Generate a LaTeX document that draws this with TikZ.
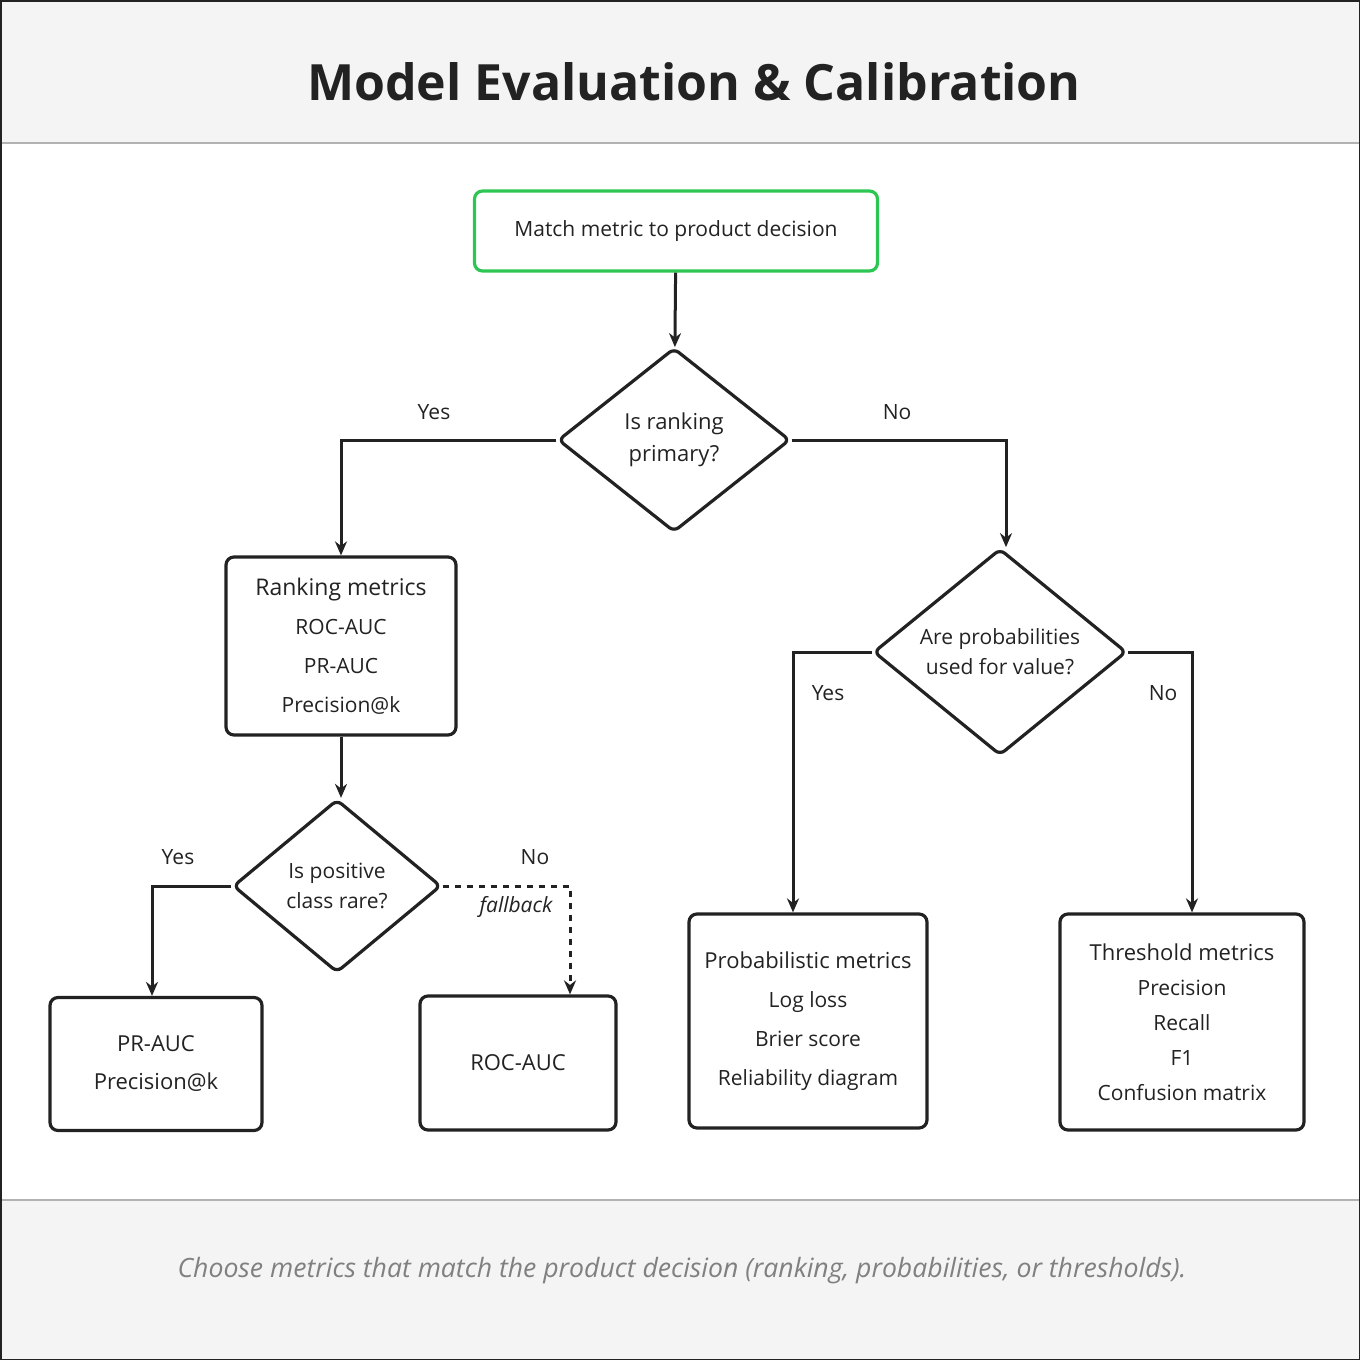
\documentclass[tikz,border=0pt]{standalone}
\usepackage{fontspec}
\setmainfont{Open Sans}
\usetikzlibrary{shapes.geometric,arrows.meta}
\definecolor{band}{HTML}{F4F4F4}
\definecolor{ink}{HTML}{222222}
\definecolor{grn}{HTML}{2DC653}
\begin{document}
\begin{tikzpicture}[x=0.5pt,y=-0.5pt,
  box/.style={draw=ink,line width=1.6pt,rounded corners=4pt,align=center,inner sep=0pt,
    font=\fontsize{10.5}{19.5}\selectfont,text=ink},
  dia/.style={diamond,draw=ink,line width=1.6pt,inner sep=0pt,align=center,rounded corners=3pt,
    font=\fontsize{11}{16}\selectfont,text=ink},
  arr/.style={draw=ink,line width=1.5pt,-{Stealth[length=7pt,width=6pt]}},
  lbl/.style={font=\fontsize{10.5}{12}\selectfont,text=ink}]
\useasboundingbox (0,0) rectangle (1360,1360);
\fill[band] (0,0) rectangle (1360,143);
\fill[band] (0,1200) rectangle (1360,1360);
\draw[gray!60,line width=0.8pt] (0,143) -- (1360,143) (0,1200) -- (1360,1200);
\draw[ink,line width=1pt] (0.5,0.5) rectangle (1359.5,1359.5);
\node[font=\fontsize{25}{30}\selectfont\bfseries,text=ink] (title) at (694,82) {Model Evaluation \& Calibration};
\node[font=\fontsize{13.3}{16}\selectfont\itshape,text=gray] (foot) at (682,1271) {Choose metrics that match the product decision (ranking, probabilities, or thresholds).};

\node[box,draw=grn,minimum width=201.5pt,minimum height=40pt] (start) at (676,231) {Match metric to product decision};
\node[dia,minimum width=116pt,minimum height=92pt] (d1) at (674,440) {Is ranking\\primary?};
\node[box,minimum width=115pt,minimum height=89pt] (rank) at (341,646) {{\fontsize{11.5}{19.5}\selectfont Ranking metrics}\\ROC-AUC\\PR-AUC\\Precision@k};
\node[dia,minimum width=126.5pt,minimum height=100pt,font=\fontsize{10.5}{15}\selectfont] (d2) at (1000,652) {Are probabilities\\used for value?};
\node[dia,minimum width=104pt,minimum height=86.5pt,font=\fontsize{10.5}{15}\selectfont] (d3) at (337,886) {Is positive\\class rare?};
\node[box,minimum width=106pt,minimum height=66.5pt,font=\fontsize{11}{19}\selectfont] (prauc) at (156,1064) {PR-AUC\\Precision@k};
\node[box,minimum width=98pt,minimum height=67pt,font=\fontsize{11}{19}\selectfont] (rocauc) at (518,1063) {ROC-AUC};
\node[box,minimum width=119pt,minimum height=107pt] (prob) at (808,1021) {{\fontsize{11}{20}\selectfont Probabilistic metrics}\\Log loss\\Brier score\\Reliability diagram};
\node[box,minimum width=122pt,minimum height=108pt,font=\fontsize{10.5}{17.5}\selectfont] (thr) at (1182,1022) {{\fontsize{11}{20}\selectfont Threshold metrics}\\Precision\\Recall\\F1\\Confusion matrix};

\draw[arr] (start) -- (d1);
\draw[arr] (d1.west) -| (rank.north);
\draw[arr] (d1.east) -| (1006,-1|-d2.north);
\draw[arr] (rank) -- (rank|-d3.north);
\draw[arr] (d3.west) -| (152,-1|-prauc.north);
\draw[arr,dashed] (d3.east) -| (570,-1|-rocauc.north);
\draw[arr] (d2.west) -| (793,-1|-prob.north);
\draw[arr] (d2.east) -| (1192,-1|-thr.north);

\node[lbl] (l1) at (434,412) {Yes};
\node[lbl] (l2) at (897,412) {No};
\node[lbl] (l3) at (178,857) {Yes};
\node[lbl] (l4) at (535,857) {No};
\node[lbl,font=\fontsize{10.5}{12}\selectfont\itshape] (l5) at (516,907) {fallback};
\node[lbl] (l6) at (828,693) {Yes};
\node[lbl] (l7) at (1163,693) {No};
\end{tikzpicture}
\end{document}
